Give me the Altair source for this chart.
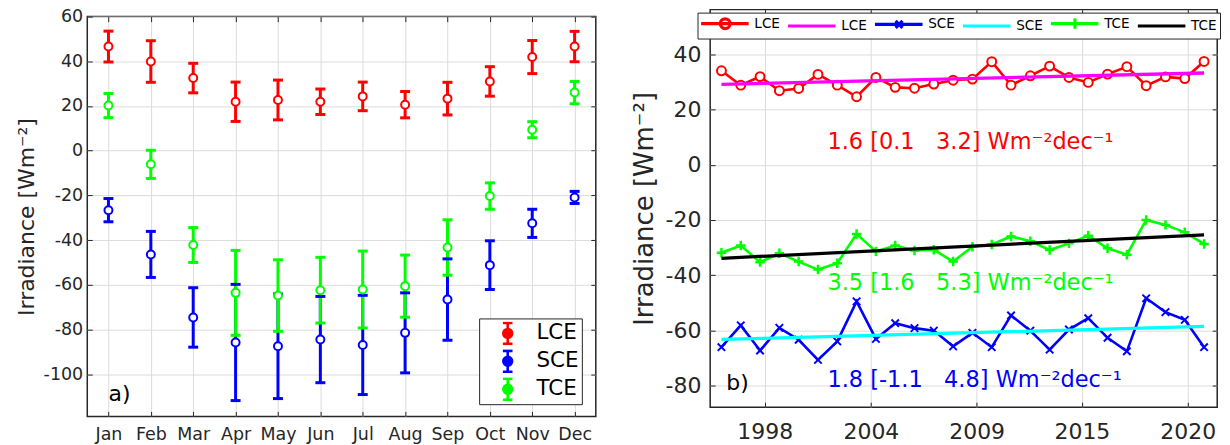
import altair as alt
import pandas as pd

FONT = "DejaVu Sans"
TXT = "#262626"
GRID = "#dcdcdc"

# ---------------- panel a): monthly means with error bars ----------------
months = ["Jan", "Feb", "Mar", "Apr", "May", "Jun", "Jul", "Aug", "Sep", "Oct", "Nov", "Dec"]
month_num = [1, 2, 3, 4, 5, 6, 7, 8, 9, 10, 11, 12]
lce_mean = [46.6, 39.9, 32.5, 21.9, 22.7, 21.9, 24.3, 20.6, 23.3, 31.0, 41.9, 46.6]
lce_err = [6.9, 9.3, 6.6, 8.8, 8.9, 5.7, 6.4, 5.9, 7.3, 6.6, 7.4, 6.8]
sce_mean = [-26.6, -46.4, -74.6, -85.8, -87.5, -84.5, -86.9, -81.5, -66.6, -51.2, -32.5, -20.9]
sce_err = [5.2, 10.3, 13.3, 26.0, 23.4, 19.3, 22.2, 17.9, 18.2, 10.9, 6.3, 2.7]
tce_mean = [20.2, -6.1, -42.2, -63.6, -64.8, -62.4, -62.1, -60.6, -43.3, -20.3, 9.4, 26.0]
tce_err = [5.4, 6.3, 7.8, 19.0, 16.0, 14.7, 17.2, 13.9, 12.4, 5.9, 3.6, 5.0]
left_keys = ["LCE", "SCE", "TCE"]
left_colors = ["#ff0000", "#0000ff", "#00ff00"]
left_yticks = [-100, -80, -60, -40, -20, 0, 20, 40, 60]
panel_a_label = ["a)"]
panel_a_pos = [1.0, -111.9]

# ---------------- panel b): yearly series and trends ----------------
years = list(range(1996, 2022))
lce_ts = [34.0, 28.8, 31.9, 26.8, 27.6, 32.7, 28.8, 24.6, 31.6, 28.0, 27.7, 29.2, 30.6,
          31.0, 37.3, 28.8, 32.2, 35.7, 31.6, 29.8, 32.8, 35.5, 28.6, 31.8, 31.2, 37.4]
sce_ts = [-66.1, -58.2, -67.3, -59.1, -63.4, -70.7, -64.0, -49.5, -63.1, -57.4, -59.2, -60.1, -65.8,
          -60.9, -66.1, -54.6, -60.1, -67.0, -59.7, -55.6, -62.7, -67.6, -48.4, -53.4, -56.2, -66.1]
tce_ts = [-31.9, -29.3, -35.3, -32.1, -35.1, -38.0, -35.7, -25.1, -31.4, -29.3, -31.1, -30.8, -35.1,
          -29.7, -28.9, -26.0, -27.7, -30.9, -28.5, -25.7, -30.3, -32.6, -20.0, -21.8, -24.5, -28.7]
fit_years = [1996, 2021]
lce_fit = [29.1, 33.2]
sce_fit = [-63.3, -58.6]
tce_fit = [-33.9, -25.4]
year_ticks = [1998.24, 2003.74, 2009.22, 2014.67, 2020.15]
right_yticks = [-80, -60, -40, -20, 0, 20, 40]
right_keys = ["LCE", "LCE fit", "SCE", "SCE fit", "TCE", "TCE fit"]
right_colors = ["#ff0000", "#ff00ff", "#0000ff", "#00ffff", "#00ff00", "#000000"]
NB = "\u00a0"
trend_text = ["1.6 [0.1" + NB * 3 + "3.2] Wm\u207b\u00b2dec\u207b\u00b9",
              "3.5 [1.6" + NB * 3 + "5.3] Wm\u207b\u00b2dec\u207b\u00b9",
              "1.8 [-1.1" + NB * 3 + "4.8] Wm\u207b\u00b2dec\u207b\u00b9"]
trend_text_year = [2001.49, 2001.49, 2001.49]
trend_text_value = [5.5, -45.3, -80.5]
trend_text_color = ["#ff0000", "#00ff00", "#0000ff"]
panel_b_label = ["b)"]
panel_b_pos = [1996.25, -81.6]

YTITLE = "Irradiance [Wm\u207b\u00b2]"

# ======================= panel a =======================
rows = []
for key, means, errs in zip(left_keys, (lce_mean, sce_mean, tce_mean), (lce_err, sce_err, tce_err)):
    for m, v, e in zip(month_num, means, errs):
        rows.append({"month": m, "key": key, "mean": v, "low": v - e, "high": v + e})
left_df = pd.DataFrame(rows)
left_leg_df = pd.DataFrame({"key": left_keys, "month": [None] * 3, "mean": [None] * 3})
a_df = pd.DataFrame({"month": [panel_a_pos[0]], "mean": [panel_a_pos[1]], "t": panel_a_label})

lx = alt.Scale(domain=[0.5, 12.5], nice=False, zero=False)
ly = alt.Scale(domain=[-118.9, 60], nice=False, zero=False)
lcol = alt.Scale(domain=left_keys, range=left_colors)
ebar_path = ("M1.3,-1L1.3,1M0.84,-1L1.76,-1M0.84,1L1.76,1"
             "M1.72,0A0.42,0.42 0 1,1 0.88,0A0.42,0.42 0 1,1 1.72,0")
lshape = alt.Scale(domain=left_keys, range=[ebar_path] * 3)

left_legend = alt.Legend(title=None, orient="none", legendX=393, legendY=302.7, direction="vertical",
                         fillColor="white", strokeColor=TXT, padding=3, labelFont=FONT,
                         labelFontSize=21.5, labelColor="#000000", labelOffset=30.4,
                         labelExpr="datum.label + '\u00a0\u00a0'", symbolSize=441,
                         symbolStrokeWidth=2.6, clipHeight=24, rowPadding=4,
                         symbolFillColor="white")

month_expr = "[" + ",".join("'%s'" % m for m in months) + "][datum.value - 1]"

l_xaxis = alt.Axis(values=month_num, labelExpr=month_expr, title=None, grid=True, gridColor=GRID,
                   domain=False, tickSize=5, offset=-5, tickColor=TXT, labelFont=FONT,
                   labelFontSize=17.5, labelColor=TXT, labelPadding=9)
l_yaxis = alt.Axis(values=left_yticks, labelExpr="'' + datum.value", title=YTITLE, grid=True,
                   gridColor=GRID, domain=False, tickSize=5, offset=-5, tickColor=TXT,
                   labelFont=FONT, labelFontSize=17.5, labelColor=TXT, labelPadding=4.6,
                   titleFont=FONT, titleFontSize=22, titleFontWeight="normal", titleColor=TXT,
                   titlePadding=5)
l_xaxis2 = alt.Axis(orient="top", values=month_num, labels=False, title=None, grid=False,
                    domain=False, tickSize=5, offset=-5, tickColor=TXT)
l_yaxis2 = alt.Axis(orient="right", values=left_yticks, labels=False, title=None, grid=False,
                    domain=False, tickSize=5, offset=-5, tickColor=TXT)

lcolor_enc = alt.Color("key:N", scale=lcol, legend=left_legend)
lcolor_noleg = alt.Color("key:N", scale=lcol, legend=None)
lbase = alt.Chart(left_df)

l_rules = lbase.mark_rule(strokeWidth=3).encode(
    x=alt.X("month:Q", scale=lx, axis=l_xaxis),
    y=alt.Y("low:Q", scale=ly, axis=l_yaxis),
    y2="high:Q",
    color=lcolor_enc,
)
l_cap_lo = lbase.mark_tick(orient="horizontal", size=10, thickness=3, opacity=1).encode(
    x=alt.X("month:Q", scale=lx, axis=None),
    y=alt.Y("low:Q", scale=ly, axis=None),
    color=lcolor_noleg,
)
l_cap_hi = lbase.mark_tick(orient="horizontal", size=10, thickness=3, opacity=1).encode(
    x=alt.X("month:Q", scale=lx, axis=None),
    y=alt.Y("high:Q", scale=ly, axis=None),
    color=lcolor_noleg,
)
l_pts = lbase.mark_point(shape="circle", filled=False, fill="white", size=64, strokeWidth=2,
                         opacity=1).encode(
    x=alt.X("month:Q", scale=lx, axis=l_xaxis2),
    y=alt.Y("mean:Q", scale=ly, axis=l_yaxis2),
    color=lcolor_enc,
)
l_leg = alt.Chart(left_leg_df).mark_point(filled=False, strokeWidth=2.6, opacity=1).encode(
    x=alt.X("month:Q", scale=lx, axis=None),
    y=alt.Y("mean:Q", scale=ly, axis=None),
    color=lcolor_enc,
    shape=alt.Shape("key:N", scale=lshape, legend=left_legend),
)
l_lab = alt.Chart(a_df).mark_text(align="left", baseline="alphabetic", font=FONT, fontSize=22,
                                   color="#000000").encode(
    x=alt.X("month:Q", scale=lx, axis=None),
    y=alt.Y("mean:Q", scale=ly, axis=None),
    text="t:N",
)

left = alt.layer(l_rules, l_cap_lo, l_cap_hi, l_pts, l_leg, l_lab).resolve_axis(
    x="independent", y="independent"
).properties(width=510, height=401)

# empty 6px spacer (no marks drawn) that lowers panel a) relative to panel b)
spacer = alt.Chart(pd.DataFrame({"s": [None]})).mark_point(opacity=0).encode(
    x=alt.X("s:Q", axis=None), y=alt.Y("s:Q", axis=None)
).properties(width=400, height=6, view=alt.ViewBackground(stroke="transparent", strokeWidth=0))

left_col = alt.vconcat(spacer, left, spacing=-9).resolve_scale(
    color="independent", shape="independent"
)

# ======================= panel b =======================
ts_rows = []
for key, vals in zip(["LCE", "SCE", "TCE"], (lce_ts, sce_ts, tce_ts)):
    for yr, v in zip(years, vals):
        ts_rows.append({"year": yr, "key": key, "value": v})
ts_df = pd.DataFrame(ts_rows)
fit_rows = []
for key, vals in zip(["LCE fit", "SCE fit", "TCE fit"], (lce_fit, sce_fit, tce_fit)):
    for yr, v in zip(fit_years, vals):
        fit_rows.append({"year": yr, "key": key, "value": v})
fit_df = pd.DataFrame(fit_rows)
ann_df = pd.DataFrame({"year": trend_text_year, "value": trend_text_value, "t": trend_text,
                       "c": trend_text_color})
b_df = pd.DataFrame({"year": [panel_b_pos[0]], "value": [panel_b_pos[1]], "t": panel_b_label})
right_leg_df = pd.DataFrame({"key": right_keys, "year": [None] * 6, "value": [None] * 6})

rx = alt.Scale(domain=[1995.416, 2021.68], nice=False, zero=False)
ry = alt.Scale(domain=[-87.83, 56.16], nice=False, zero=False)
rcol = alt.Scale(domain=right_keys, range=right_colors)
LINE = "M-1.2,0L7.1,0"
rpaths = [
    LINE + "M3.85,0A0.85,0.85 0 1,1 2.15,0A0.85,0.85 0 1,1 3.85,0",
    LINE,
    LINE + "M2.4,-0.6L3.6,0.6M2.4,0.6L3.6,-0.6",
    LINE,
    LINE + "M3,-0.9L3,0.9",
    LINE,
]
rshape = alt.Scale(domain=right_keys, range=rpaths)

right_legend = alt.Legend(title=None, orient="none", legendX=-12.7, legendY=3, direction="horizontal",
                          columns=6, fillColor="white", strokeColor=TXT, padding=3,
                          labelFont=FONT, labelFontSize=13.6, labelColor="#000000",
                          labelOffset=39, labelExpr="split(datum.label, ' ')[0]",
                          symbolSize=132, symbolStrokeWidth=3.2, columnPadding=1.2,
                          symbolFillColor="white")

r_xaxis = alt.Axis(values=year_ticks, labelExpr="'' + round(datum.value)", title=None, grid=True,
                   gridColor=GRID, domain=False, tickSize=5, offset=-5, tickColor=TXT,
                   labelFont=FONT, labelFontSize=22, labelColor=TXT, labelPadding=14)
r_yaxis = alt.Axis(values=right_yticks, labelExpr="'' + datum.value", title=YTITLE, grid=True,
                   gridColor=GRID, domain=False, tickSize=5, offset=-5, tickColor=TXT,
                   labelFont=FONT, labelFontSize=22, labelColor=TXT, labelPadding=9.3,
                   titleFont=FONT, titleFontSize=26, titleFontWeight="normal", titleColor=TXT,
                   titlePadding=8)
r_xaxis2 = alt.Axis(orient="top", values=year_ticks, labels=False, title=None, grid=False,
                    domain=False, tickSize=5, offset=-5, tickColor=TXT)
r_yaxis2 = alt.Axis(orient="right", values=right_yticks, labels=False, title=None, grid=False,
                    domain=False, tickSize=5, offset=-5, tickColor=TXT)

rcolor_enc = alt.Color("key:N", scale=rcol, legend=right_legend)


def rxy(xaxis=None, yaxis=None):
    return dict(x=alt.X("year:Q", scale=rx, axis=xaxis), y=alt.Y("value:Q", scale=ry, axis=yaxis))


r_lines = alt.Chart(ts_df).mark_line(strokeWidth=2.6).encode(
    color=rcolor_enc, order="year:Q", **rxy(r_xaxis, r_yaxis))
r_lce_pts = alt.Chart(ts_df).transform_filter("datum.key == 'LCE'").mark_point(
    shape="circle", filled=False, fill="white", size=80, strokeWidth=2, opacity=1).encode(
    color=rcolor_enc, **rxy(r_xaxis2, r_yaxis2))
r_sce_pts = alt.Chart(ts_df).transform_filter("datum.key == 'SCE'").mark_point(
    shape="M-1,-1L1,1M-1,1L1,-1", filled=False, size=56, strokeWidth=2, opacity=1).encode(
    color=rcolor_enc, **rxy())
r_tce_pts = alt.Chart(ts_df).transform_filter("datum.key == 'TCE'").mark_point(
    shape="M-1,0L1,0M0,-1L0,1", filled=False, size=90, strokeWidth=2.5, opacity=1).encode(
    color=rcolor_enc, **rxy())
r_fits = alt.Chart(fit_df).mark_line(strokeWidth=3.3).encode(
    color=rcolor_enc, **rxy())
r_ann = alt.Chart(ann_df).mark_text(align="left", baseline="alphabetic", font=FONT,
                                    fontSize=22.5).encode(
    text="t:N", fill=alt.Fill("c:N", scale=None), **rxy())
r_lab = alt.Chart(b_df).mark_text(align="left", baseline="alphabetic", font=FONT, fontSize=22,
                                  color="#000000").encode(text="t:N", **rxy())
r_leg = alt.Chart(right_leg_df).mark_point(filled=False, strokeWidth=3.2, opacity=1).encode(
    color=rcolor_enc, shape=alt.Shape("key:N", scale=rshape, legend=right_legend), **rxy())

right = alt.layer(r_lines, r_lce_pts, r_sce_pts, r_tce_pts, r_fits, r_ann, r_lab, r_leg).resolve_axis(
    x="independent", y="independent"
).properties(width=508.5, height=398.7)

chart = alt.hconcat(left_col, right, spacing=32.7).resolve_scale(
    color="independent", shape="independent"
).configure_view(stroke=TXT, strokeWidth=1.5).properties(
    padding={"left": 5.5, "top": -2, "right": 0, "bottom": 0}
)

chart.save("out.html", embed_options={"renderer": "svg", "actions": False})
